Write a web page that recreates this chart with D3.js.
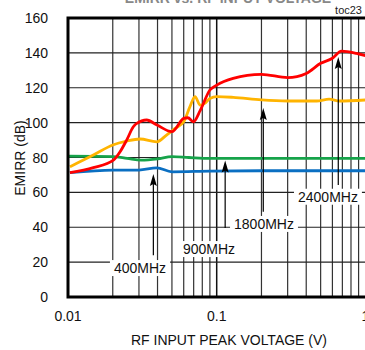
<!DOCTYPE html>
<html>
<head>
<meta charset="utf-8">
<script src="https://cdn.jsdelivr.net/npm/d3@7"></script>
<style>
  body { margin: 0; background: #fff; }
  svg { display: block; font-family: "Liberation Sans", Arial, sans-serif; }
</style>
</head>
<body>
<div id="chart"></div>
<script>
// EMIRR vs RF input peak voltage
const xTicks = [0.01, 0.1, 1];
const xTickLabels = ["0.01", "0.1", "1"];
const yTicks = [0, 20, 40, 60, 80, 100, 120, 140, 160];

const blueX = [0.0103, 0.02, 0.03, 0.0395, 0.05, 0.09, 0.2, 1];
const blueY = [71.3, 72.8, 72.8, 74.1, 71.8, 72.2, 72.4, 72.4];

const greenX = [0.01, 0.02, 0.025, 0.031, 0.04, 0.05, 0.065, 0.09, 0.2, 1];
const greenY = [80.8, 80.5, 79.5, 78.5, 79.2, 80.5, 80, 79.5, 79.5, 79.5];

const yellowX = [0.0103, 0.0148, 0.02, 0.0248, 0.0305, 0.0395, 0.046, 0.0525, 0.06, 0.066, 0.0715, 0.0775, 0.083, 0.09, 0.1, 0.129, 0.2, 0.3, 0.47, 0.57, 0.67, 1];
const yellowY = [74.7, 81.4, 87.2, 89.4, 90.6, 89, 92.9, 96.7, 100.5, 109, 114.9, 110, 111, 113.9, 114.9, 114.5, 113, 112.4, 112.4, 113.5, 112.4, 113];

const redX = [0.0103, 0.0148, 0.0202, 0.0224, 0.0248, 0.0275, 0.0313, 0.0338, 0.0397, 0.05, 0.06, 0.064, 0.0697, 0.0775, 0.09, 0.1, 0.129, 0.2, 0.3, 0.4, 0.5, 0.6, 0.69, 0.87, 1];
const redY = [71.3, 74.2, 78.5, 83.3, 90, 97.6, 101, 101.5, 98.6, 94.8, 102.4, 102.8, 100.5, 107, 118.7, 121.5, 125.4, 127.7, 125.8, 128.2, 134, 136.9, 141, 139.7, 138.4];

// annotation arrows: x (V), tip / tail (dB), label centre
const annNames = ["400MHz", "900MHz", "1800MHz", "2400MHz"];
const annX = [0.0375, 0.114, 0.2057, 0.657];
const annTip = [70.5, 78.3, 108.4, 137.6];
const annTail = [24, 39.6, 48.9, 64.2];
const annLabelX = [0.0305, 0.0888, 0.208, 0.56];
const annLabelY = [16.6, 27.5, 41.9, 57.5];

const width = 365, height = 350;
const margin = {top: 18, right: 0, bottom: 53, left: 68};

const svg = d3.select("#chart").append("svg")
  .attr("width", width)
  .attr("height", height);

const x = d3.scaleLog().domain([0.01, 1]).range([68, 365.4]);
const y = d3.scaleLinear().domain([0, 160]).range([297, 18]);

// title, cut off at the top edge
svg.append("text")
  .attr("x", 228).attr("y", 3)
  .attr("text-anchor", "middle")
  .attr("font-size", 14).attr("font-weight", "bold")
  .attr("fill", "#888")
  .text("EMIRR vs. RF INPUT VOLTAGE");

svg.append("text")
  .attr("x", 362).attr("y", 14)
  .attr("text-anchor", "end")
  .attr("font-size", 11).attr("fill", "#222")
  .text("toc23");

// grid
const grid = svg.append("g");
let minor = [];
[0.01, 0.1].forEach(d => { for (let k = 2; k <= 9; k++) minor.push(d * k); });
grid.selectAll(".vmin").data(minor).enter().append("line")
  .attr("x1", d => x(d)).attr("x2", d => x(d))
  .attr("y1", y(160)).attr("y2", y(0))
  .attr("stroke", "#333").attr("stroke-width", 1.2);
grid.selectAll(".vmaj").data([0.1]).enter().append("line")
  .attr("x1", d => x(d)).attr("x2", d => x(d))
  .attr("y1", y(160)).attr("y2", y(0))
  .attr("stroke", "#111").attr("stroke-width", 1.5);
grid.selectAll(".h").data(yTicks.slice(1, -1)).enter().append("line")
  .attr("x1", x(0.01)).attr("x2", x(1))
  .attr("y1", d => y(d)).attr("y2", d => y(d))
  .attr("stroke", "#222").attr("stroke-width", 1.2);

// curves
const line = d3.line()
  .x(d => x(d[0])).y(d => y(d[1]))
  .curve(d3.curveMonotoneX);

const series = [
  {xs: blueX, ys: blueY, color: "#0a6fc2"},
  {xs: greenX, ys: greenY, color: "#16a34a"},
  {xs: yellowX, ys: yellowY, color: "#ffb400"},
  {xs: redX, ys: redY, color: "#ff0000"}
];
series.forEach(s => {
  svg.append("path")
    .datum(s.xs.map((v, i) => [v, s.ys[i]]))
    .attr("d", line)
    .attr("fill", "none")
    .attr("stroke", s.color)
    .attr("stroke-width", 2.8)
    .attr("stroke-linejoin", "round");
});

// annotations
annNames.forEach((name, i) => {
  const ax = x(annX[i]);
  const g = svg.append("g");
  g.append("line")
    .attr("x1", ax).attr("x2", ax)
    .attr("y1", y(annTip[i]) + 8).attr("y2", y(annTail[i]))
    .attr("stroke", "#000").attr("stroke-width", 1.2);
  const ty = y(annTip[i]);
  g.append("path")
    .attr("d", `M${ax},${ty} L${ax + 3.5},${ty + 12} L${ax},${ty + 10} L${ax - 3.5},${ty + 12} Z`)
    .attr("fill", "#000");
  const t = g.append("text")
    .attr("x", x(annLabelX[i])).attr("y", y(annLabelY[i]))
    .attr("text-anchor", "middle").attr("dominant-baseline", "central")
    .attr("font-size", 14).attr("fill", "#111")
    .text(name);
  const bb = t.node().getBBox();
  g.insert("rect", "text")
    .attr("x", bb.x - 4).attr("y", bb.y)
    .attr("width", bb.width + 8).attr("height", bb.height)
    .attr("fill", "#fff");
});

// frame
svg.append("path")
  .attr("d", `M${x(1)},${y(160)} L${x(0.01)},${y(160)} L${x(0.01)},${y(0)} L${x(1)},${y(0)}`)
  .attr("fill", "none").attr("stroke", "#000").attr("stroke-width", 3);

// axis labels
svg.selectAll(".ytl").data(yTicks).enter().append("text")
  .attr("x", 48).attr("y", d => y(d))
  .attr("text-anchor", "end").attr("dominant-baseline", "central")
  .attr("font-size", 14).attr("fill", "#111")
  .text(d => d);

svg.selectAll(".xtl").data(xTicks).enter().append("text")
  .attr("x", d => x(d)).attr("y", 316)
  .attr("text-anchor", "middle").attr("dominant-baseline", "central")
  .attr("font-size", 14).attr("fill", "#111")
  .text((d, i) => xTickLabels[i]);

svg.append("text")
  .attr("x", 229).attr("y", 340)
  .attr("text-anchor", "middle").attr("dominant-baseline", "central")
  .attr("font-size", 14).attr("fill", "#111")
  .text("RF INPUT PEAK VOLTAGE (V)");

svg.append("text")
  .attr("transform", "translate(20,158) rotate(-90)")
  .attr("text-anchor", "middle").attr("dominant-baseline", "central")
  .attr("font-size", 14).attr("fill", "#111")
  .text("EMIRR (dB)");
</script>
</body>
</html>
